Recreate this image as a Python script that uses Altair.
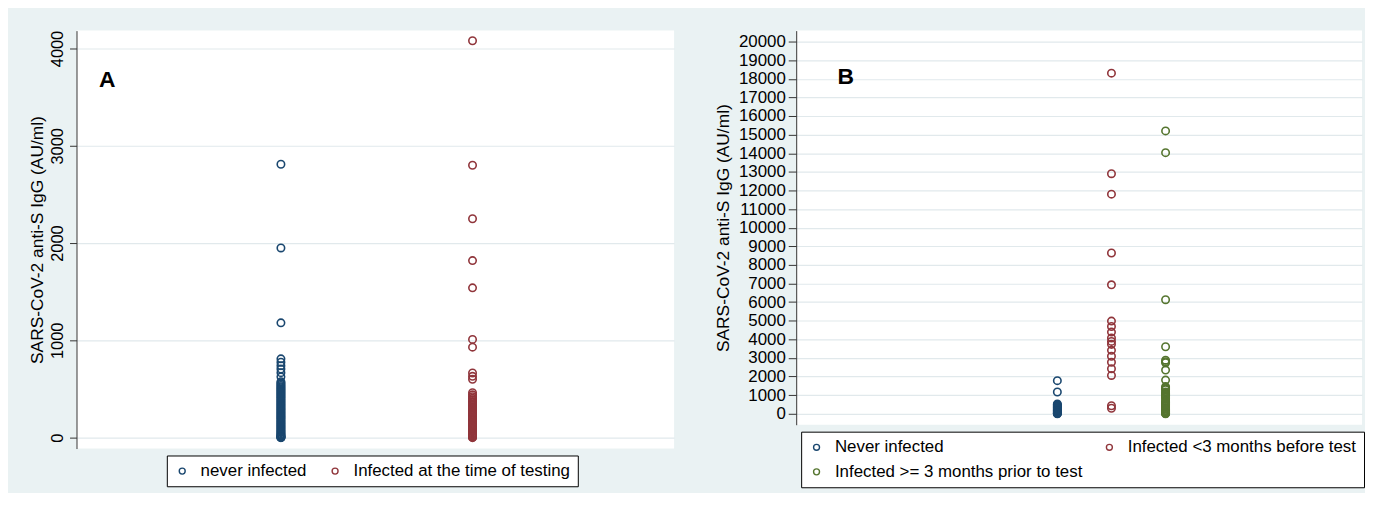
import altair as alt
import pandas as pd

FONT = "Liberation Sans"
Y_TITLE = "SARS-CoV-2 anti-S IgG (AU/ml)"

# ---------------- Panel A data ----------------
a_groups = ["never infected", "Infected at the time of testing"]
a_colors = ["#1a476f", "#90353b"]
a_ticks = [0, 1000, 2000, 3000, 4000]
a_never = [2810, 1950, 1180, 810, 775, 740, 705, 668, 625,
           575, 562, 549, 537, 524, 513, 501, 490, 478, 466, 455, 443, 431,
           420, 409, 397, 386, 374, 363, 351, 340, 329, 317, 306, 294, 283,
           272, 260, 249, 238, 226, 215, 204, 193, 181, 170, 159, 148, 137,
           126, 115, 104, 93, 82, 71, 61, 51, 41, 32, 24, 17, 11, 6, 3, 1, 0]
a_infected = [4080, 2800, 2250, 1820, 1540, 1010, 930, 665, 630, 600,
              462, 440, 420, 405, 390, 372, 360, 345, 330, 318, 305, 290,
              276, 262, 250, 237, 225, 212, 200, 187, 175, 160, 148, 135,
              122, 110, 97, 85, 72, 60, 48, 37, 27, 18, 10, 4, 0]

# ---------------- Panel B data ----------------
b_groups = ["Never infected", "Infected <3 months before test",
            "Infected >= 3 months prior to test"]
b_colors = ["#1a476f", "#90353b", "#55752f"]
b_ticks = [0, 1000, 2000, 3000, 4000, 5000, 6000, 7000, 8000, 9000, 10000,
           11000, 12000, 13000, 14000, 15000, 16000, 17000, 18000, 19000, 20000]
b_never = [1780, 1170, 530, 490, 450, 410, 370, 330, 290, 250, 210, 170,
           130, 95, 60, 30, 10, 0]
b_recent = [18300, 12900, 11800, 8640, 6930, 4980, 4690, 4390, 4070, 3890,
            3730, 3410, 3090, 2770, 2420, 2060, 430, 300]
b_past = [15200, 14030, 6130, 3600, 2880, 2800, 2740, 2350, 1810, 1460,
          1400, 1340, 1290, 1170, 1110, 1050, 990, 930, 870, 810, 690, 640,
          590, 540, 490, 440, 390, 340, 290, 240, 190, 140, 100, 60, 30, 10, 0]

df_a = pd.DataFrame({
    "group": [a_groups[0]] * len(a_never) + [a_groups[1]] * len(a_infected),
    "pos": [1] * len(a_never) + [2] * len(a_infected),
    "igg": a_never + a_infected,
})
df_b = pd.DataFrame({
    "group": [b_groups[0]] * len(b_never) + [b_groups[1]] * len(b_recent)
    + [b_groups[2]] * len(b_past),
    "pos": [1] * len(b_never) + [2] * len(b_recent) + [3] * len(b_past),
    "igg": b_never + b_recent + b_past,
})

GRID = "#e1e9ec"
AXC = "#333333"


def panel(df, groups, colors, ticks, ydom, xdom, label, w, h, vertical_labels,
          legend_kw, label_xy):
    if vertical_labels:
        axis = alt.Axis(values=ticks, title=Y_TITLE, format="d",
                        labelAngle=270, labelAlign="center",
                        labelBaseline="bottom", labelFontSize=16.5,
                        tickSize=7, labelPadding=4, titlePadding=3,
                        grid=True, gridColor=GRID, gridWidth=1.2,
                        domainColor=AXC, tickColor=AXC, labelColor="black",
                        titleColor="black", titleFontSize=17.5,
                        titleFontWeight="normal", labelFont=FONT,
                        titleFont=FONT, labelOverlap=False)
    else:
        axis = alt.Axis(values=ticks, title=Y_TITLE, format="d",
                        labelFontSize=17, tickSize=8, labelPadding=3,
                        titlePadding=6, grid=True, gridColor=GRID,
                        gridWidth=1.2, domainColor=AXC, tickColor=AXC,
                        labelColor="black", titleColor="black",
                        titleFontSize=17.5, titleFontWeight="normal",
                        labelFont=FONT, titleFont=FONT, labelOverlap=False)
    pts = alt.Chart(df).mark_point(
        shape="circle", filled=False, size=56, strokeWidth=1.6, opacity=1
    ).encode(
        x=alt.X("pos:Q", scale=alt.Scale(domain=xdom, nice=False, zero=False),
                axis=None),
        y=alt.Y("igg:Q", scale=alt.Scale(domain=ydom, nice=False, zero=False),
                axis=axis),
        color=alt.Color("group:N",
                        scale=alt.Scale(domain=groups, range=colors),
                        legend=alt.Legend(title=None, orient="none",
                                          strokeColor="black",
                                          fillColor="white",
                                          labelFont=FONT, labelFontSize=17,
                                          labelColor="black", labelLimit=0,
                                          symbolType="circle", symbolSize=36,
                                          symbolStrokeWidth=1.4,
                                          labelOffset=10, gridAlign="each",
                                          **legend_kw)),
    )
    lab = alt.Chart(pd.DataFrame({"t": [label]})).mark_text(
        font=FONT, fontSize=23, fontWeight="bold", color="black",
        align="center", baseline="middle"
    ).encode(text="t:N", x=alt.value(label_xy[0]), y=alt.value(label_xy[1]))
    return alt.layer(pts, lab).properties(width=w, height=h)


chart_a = panel(df_a, a_groups, a_colors, a_ticks, [-112, 4184],
                [-0.067, 3.052], "A", 602, 421, True,
                dict(legendX=91, legendY=428, direction="horizontal",
                     columns=2, padding=7, columnPadding=20),
                (31, 50))
chart_b = panel(df_b, b_groups, b_colors, b_ticks, [-587, 20587],
                [-3.826, 6.63], "B", 570, 397, False,
                dict(legendX=5, legendY=404, direction="horizontal",
                     columns=2, padding=7, columnPadding=18, rowPadding=7),
                (50, 47))

chart = alt.hconcat(chart_a, chart_b, spacing=40).resolve_scale(
    color="independent", y="independent", x="independent"
).properties(
    background="#eaf2f3",
    padding={"left": 21, "top": 20, "right": 0, "bottom": 3},
).configure_view(fill="white", stroke=None)

chart.save("out.html", embed_options={"renderer": "svg", "actions": False})
